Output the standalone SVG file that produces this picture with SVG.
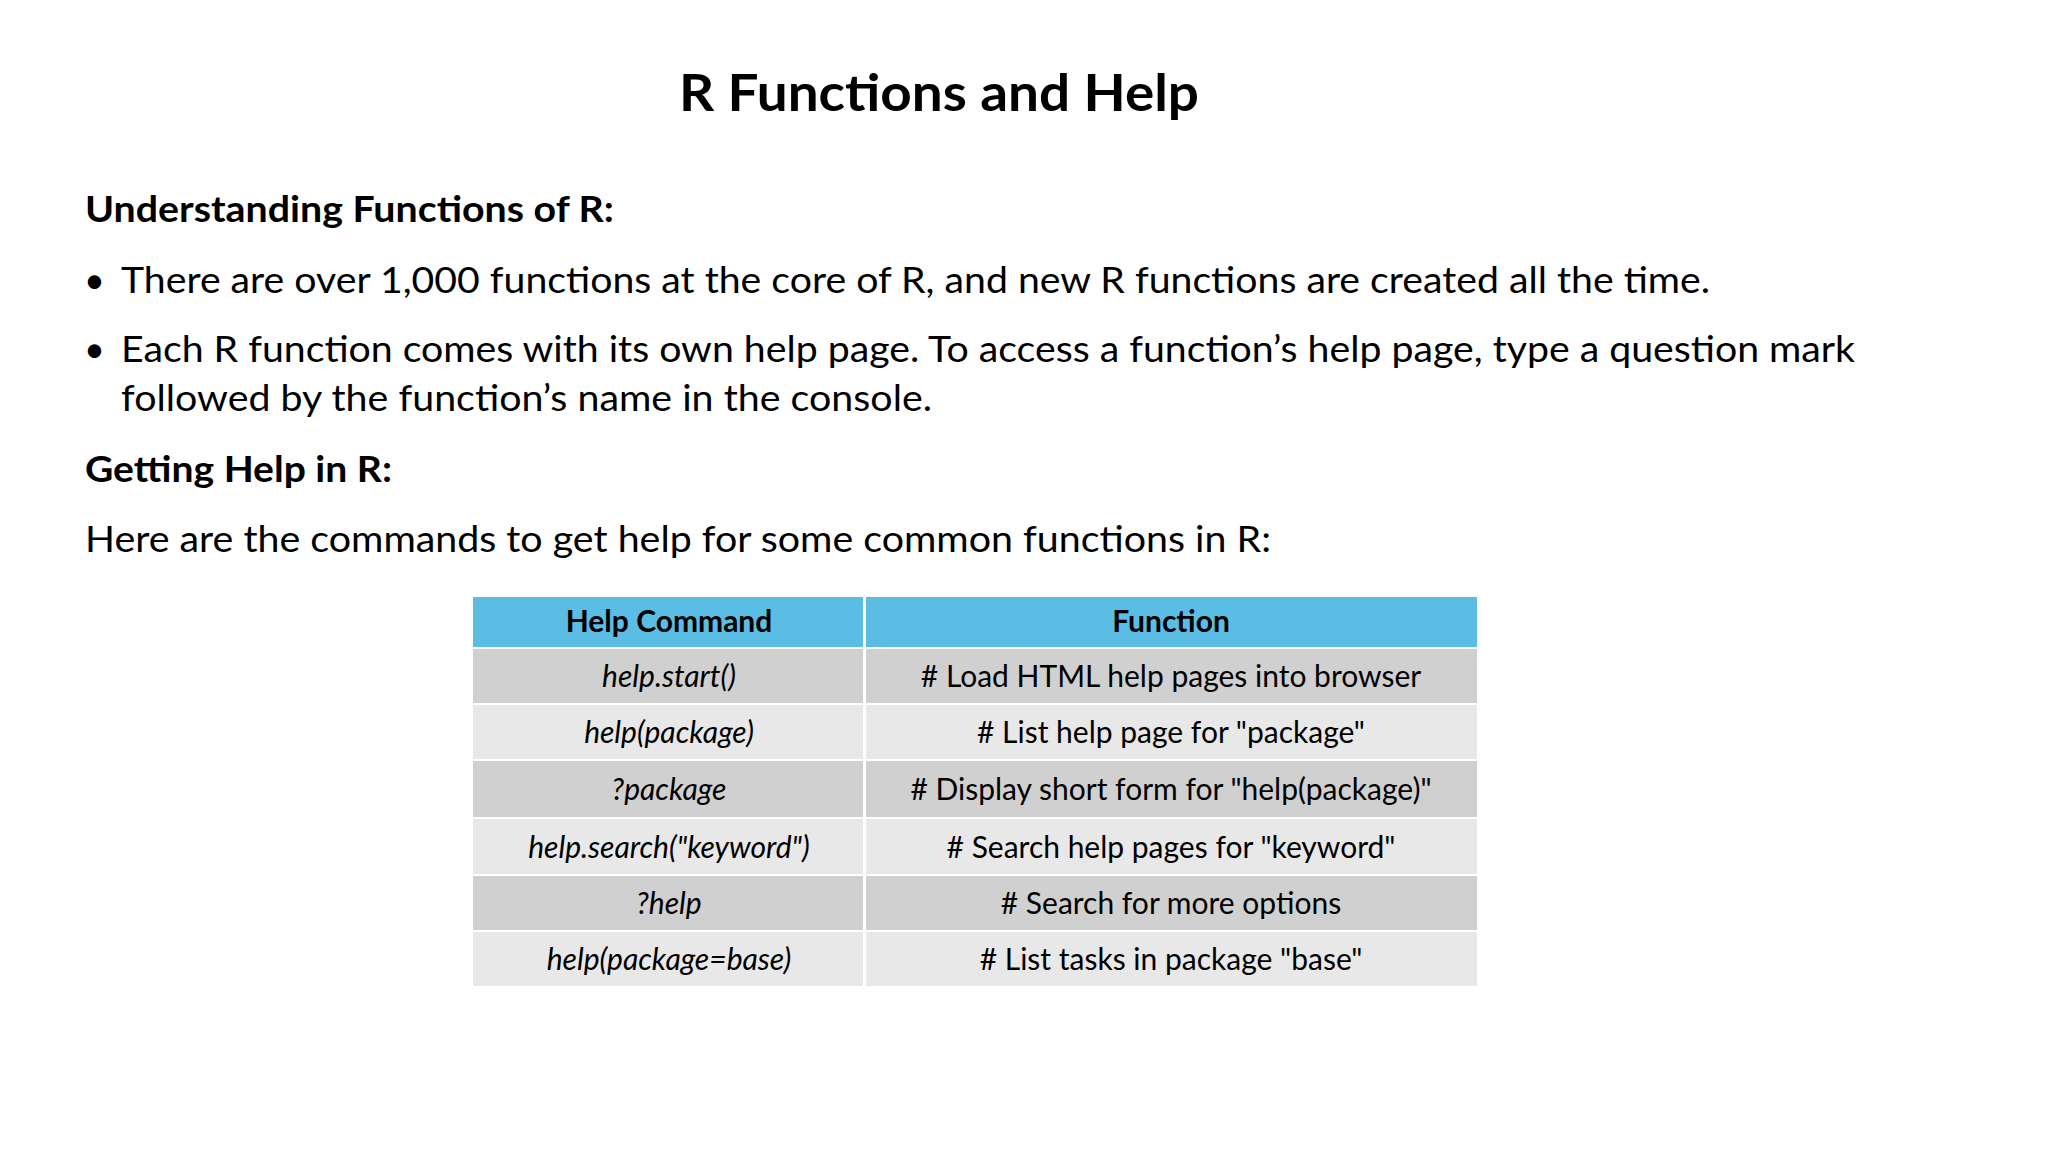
<svg xmlns="http://www.w3.org/2000/svg" width="2048" height="1152" viewBox="0 0 2048 1152">
<style>
text{font-family:Lato,"Open Sans","Liberation Sans",sans-serif;fill:#000}
.h{font-weight:bold;font-size:36px}
.b{font-size:36px}
.t{font-size:30px;text-anchor:middle}
.i{font-style:italic}
.hd{font-weight:bold}
.o{fill:#D0D0D0}.e{fill:#E8E8E8}
</style>
<rect width="2048" height="1152" fill="#fff"/>
<text x="939" y="111" text-anchor="middle" font-size="52" font-weight="bold" textLength="520" lengthAdjust="spacingAndGlyphs">R Functions and Help</text>
<text class="h" x="85" y="222" textLength="529" lengthAdjust="spacingAndGlyphs">Understanding Functions of R:</text>
<text class="b" x="84" y="293">•</text>
<text class="b" x="121" y="293" textLength="1589" lengthAdjust="spacingAndGlyphs">There are over 1,000 functions at the core of R, and new R functions are created all the time.</text>
<text class="b" x="84" y="362">•</text>
<text class="b" x="121" y="362" textLength="1734" lengthAdjust="spacingAndGlyphs">Each R function comes with its own help page. To access a function’s help page, type a question mark</text>
<text class="b" x="121" y="411" textLength="811" lengthAdjust="spacingAndGlyphs">followed by the function’s name in the console.</text>
<text class="h" x="85" y="482" textLength="307" lengthAdjust="spacingAndGlyphs">Getting Help in R:</text>
<text class="b" x="85" y="552" textLength="1186" lengthAdjust="spacingAndGlyphs">Here are the commands to get help for some common functions in R:</text>
<g id="table">
<rect x="473" y="597" width="390" height="50" fill="#5BBDE4"/>
<rect x="866" y="597" width="611" height="50" fill="#5BBDE4"/>
<rect class="o" x="473" y="649" width="390" height="54"/><rect class="o" x="866" y="649" width="611" height="54"/>
<rect class="e" x="473" y="705" width="390" height="54"/><rect class="e" x="866" y="705" width="611" height="54"/>
<rect class="o" x="473" y="761" width="390" height="56"/><rect class="o" x="866" y="761" width="611" height="56"/>
<rect class="e" x="473" y="819" width="390" height="55"/><rect class="e" x="866" y="819" width="611" height="55"/>
<rect class="o" x="473" y="876" width="390" height="54"/><rect class="o" x="866" y="876" width="611" height="54"/>
<rect class="e" x="473" y="932" width="390" height="54"/><rect class="e" x="866" y="932" width="611" height="54"/>
<text class="t hd" x="669" y="632">Help Command</text><text class="t hd" x="1171" y="632">Function</text>
<text class="t i" x="669" y="687">help.start()</text><text class="t" x="1171" y="687"># Load HTML help pages into browser</text>
<text class="t i" x="669" y="743">help(package)</text><text class="t" x="1171" y="743"># List help page for "package"</text>
<text class="t i" x="669" y="800">?package</text><text class="t" x="1171" y="800"># Display short form for "help(package)"</text>
<text class="t i" x="669" y="858">help.search("keyword")</text><text class="t" x="1171" y="858"># Search help pages for "keyword"</text>
<text class="t i" x="669" y="914">?help</text><text class="t" x="1171" y="914"># Search for more options</text>
<text class="t i" x="669" y="970">help(package=base)</text><text class="t" x="1171" y="970"># List tasks in package "base"</text>
</g>
</svg>
